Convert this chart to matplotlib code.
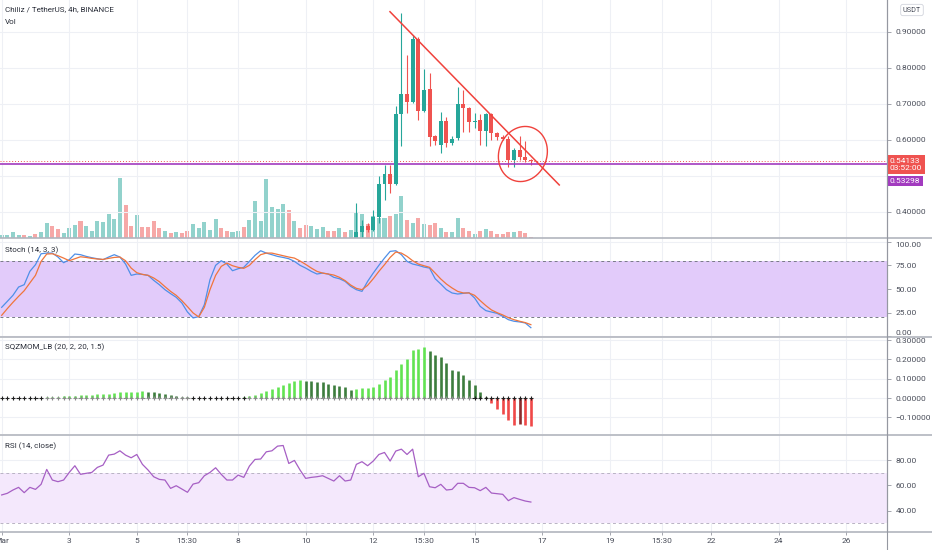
import matplotlib
matplotlib.use('Agg')
import matplotlib.pyplot as plt
import numpy as np
from matplotlib.lines import Line2D

plt.rcParams['font.family'] = ['Roboto', 'DejaVu Sans']

# ---------------- data ----------------
n_bars = 95
bar_day = 1 + np.arange(n_bars) / 6.0     # 4h bars, day 1 = Mar 1 00:00

# volume (millions), one per bar
volume = [0.7, 0.7, 1.6, 0.9, 0.8, 0.6, 1.0, 1.8, 4.4, 3.5,
          2.7, 1.5, 2.9, 3.9, 5.1, 3.5, 2.1, 5.0, 4.7, 7.0,
          5.7, 18.0, 9.7, 3.5, 6.7, 3.2, 3.1, 4.9, 2.9, 2.1,
          1.4, 1.6, 1.4, 2.0, 4.2, 2.9, 4.7, 2.4, 5.6, 2.9,
          2.1, 1.7, 2.0, 3.2, 5.3, 11.1, 4.9, 17.5, 9.2, 8.6,
          10.1, 8.2, 5.0, 3.0, 3.9, 3.4, 2.7, 3.2, 2.1, 2.1,
          2.9, 1.7, 2.2, 7.7, 7.2, 4.0, 6.4, 6.0, 6.0, 6.4,
          7.2, 12.5, 5.4, 4.4, 5.8, 4.0, 3.7, 4.3, 2.8, 1.8,
          1.8, 5.8, 2.8, 1.9, 1.2, 2.0, 2.6, 2.0, 1.1, 1.1,
          1.8, 1.6, 2.0, 1.5, 0.3]
# up/down of the bars whose candles lie below the visible price range
vol_up_early = [1, 1, 1, 1, 0, 1, 0, 1, 1, 0, 0, 1, 1, 1, 0, 1, 1, 1, 1, 1,
                1, 1, 0, 0, 1, 0, 0, 0, 0, 1, 0, 1, 0, 0, 1, 1, 1, 1, 1, 0,
                0, 1, 1, 0, 1, 1, 1, 1, 1, 1, 1, 0, 1, 0, 0, 1, 1, 1, 0, 0,
                1, 0, 1]

# visible candles (bar 63 .. 94)
candle_first = 63
c_open = [0.324, 0.343, 0.361, 0.350, 0.385, 0.478, 0.506, 0.478, 0.672, 0.728,
          0.706, 0.880, 0.681, 0.741, 0.611, 0.585, 0.653, 0.591, 0.605, 0.699,
          0.690, 0.651, 0.655, 0.625, 0.671, 0.618, 0.609, 0.603, 0.543, 0.572,
          0.552, 0.544]
c_high = [0.424, 0.378, 0.369, 0.406, 0.500, 0.531, 0.531, 0.693, 0.952, 0.836,
          0.892, 0.885, 0.796, 0.785, 0.615, 0.678, 0.665, 0.610, 0.748, 0.739,
          0.692, 0.676, 0.671, 0.674, 0.674, 0.622, 0.613, 0.610, 0.577, 0.611,
          0.597, 0.546]
c_low = [0.313, 0.322, 0.343, 0.348, 0.369, 0.433, 0.454, 0.475, 0.582, 0.674,
         0.702, 0.656, 0.679, 0.583, 0.586, 0.565, 0.581, 0.585, 0.600, 0.623,
         0.623, 0.632, 0.586, 0.583, 0.600, 0.600, 0.600, 0.526, 0.526, 0.543,
         0.540, 0.531]
c_close = [0.343, 0.361, 0.350, 0.385, 0.478, 0.506, 0.478, 0.672, 0.728, 0.706,
           0.880, 0.681, 0.739, 0.609, 0.598, 0.652, 0.591, 0.603, 0.699, 0.690,
           0.649, 0.654, 0.625, 0.671, 0.618, 0.607, 0.603, 0.543, 0.572, 0.552,
           0.543, 0.54133]

last_price = 0.54133
level_price = 0.53298
countdown = '03:52:00'

# drawn trend line and circle (day, price)
trend_days = [12.495, 17.507]
trend_prices = [0.9564, 0.475]
circle_center = (16.43, 0.561)

stoch_k = [30.6, 36.9, 43.3, 52.1, 54.6, 68.7, 75.8, 87.4, 88.1, 88.1,
           83.9, 77.9, 81.1, 87.1, 86.4, 84.6, 83.2, 82.1, 81.1, 83.9,
           86.4, 83.9, 76.5, 64.5, 65.9, 65.5, 64.5, 59.2, 54.6, 49.3,
           45.1, 41.2, 35.2, 25.6, 19.3, 20.7, 33.4, 59.9, 75.1, 80.0,
           76.5, 69.4, 71.5, 73.0, 79.3, 85.7, 90.6, 88.1, 86.4, 84.6,
           83.5, 82.1, 79.3, 75.1, 72.2, 68.7, 65.9, 66.9, 65.9, 62.4,
           60.9, 58.1, 52.8, 49.3, 47.5, 58.1, 66.9, 75.1, 82.8, 89.9,
           90.6, 86.4, 79.3, 76.5, 75.1, 73.3, 72.2, 60.9, 55.3, 49.3,
           45.8, 44.7, 45.4, 46.1, 40.5, 31.6, 27.1, 25.6, 24.2, 21.1,
           17.5, 15.8, 15.1, 14.0, 9.0]
stoch_d = [22.1, 29.2, 35.9, 42.2, 48.2, 56.4, 64.5, 79.3, 87.1, 87.4,
           85.3, 82.8, 80.0, 82.1, 84.2, 83.5, 82.5, 81.8, 81.4, 82.5,
           83.5, 83.9, 80.0, 72.2, 67.3, 65.5, 64.5, 61.7, 57.8, 52.5,
           47.5, 43.3, 37.7, 31.3, 24.6, 20.4, 30.6, 49.3, 64.5, 74.0,
           77.5, 74.7, 73.0, 71.9, 75.1, 81.1, 86.4, 88.1, 88.1, 86.7,
           85.3, 83.9, 82.8, 79.7, 76.1, 72.2, 68.7, 66.9, 65.9, 64.8,
           62.4, 58.9, 54.2, 50.7, 49.3, 53.9, 60.9, 68.7, 75.8, 83.5,
           89.2, 88.1, 84.6, 80.0, 76.5, 74.7, 73.0, 66.9, 60.6, 55.3,
           51.1, 47.5, 45.8, 45.8, 43.3, 37.7, 32.4, 27.8, 24.9, 22.5,
           19.6, 17.5, 15.8, 14.4, 12.2]

sqz_mom = [0.0, 0.0, 0.0, 0.0, 0.0, 0.0, 0.0, 0.0, 0.003, 0.005,
           0.007, 0.009, 0.010, 0.012, 0.016, 0.017, 0.018, 0.019, 0.021, 0.022,
           0.026, 0.029, 0.031, 0.0315, 0.032, 0.034, 0.032, 0.029, 0.024, 0.019,
           0.014, 0.009, 0.005, 0.003, 0.001, -0.001, -0.002, -0.001, 0.0, 0.0,
           0.0, 0.0, 0.0005, 0.003, 0.009, 0.014, 0.028, 0.038, 0.047, 0.057,
           0.069, 0.079, 0.086, 0.091, 0.090, 0.086, 0.084, 0.081, 0.074, 0.069,
           0.060, 0.055, 0.043, 0.048, 0.050, 0.052, 0.055, 0.072, 0.093, 0.107,
           0.147, 0.176, 0.203, 0.250, 0.253, 0.264, 0.245, 0.224, 0.210, 0.181,
           0.147, 0.138, 0.121, 0.095, 0.066, 0.031, 0.007, -0.026, -0.055, -0.083,
           -0.112, -0.141, -0.136, -0.142, -0.147]
# squeeze state per bar: 1 = squeeze on (black cross), 0 = off (grey cross)
sqz_on = [1] * 8 + [0] * 26 + [1] * 10 + [0] * 40 + [1] * 11

rsi = [52.4, 53.7, 56.3, 58.4, 54.2, 58.4, 56.8, 60.8, 72.6, 64.2,
       62.9, 64.2, 70.2, 75.5, 68.7, 69.5, 70.2, 74.2, 76.0, 83.9,
       84.7, 87.3, 83.9, 81.8, 84.4, 76.6, 72.1, 66.8, 64.7, 64.2,
       57.6, 59.7, 57.1, 54.5, 61.0, 62.1, 67.6, 70.2, 73.9, 68.7,
       64.2, 64.2, 68.1, 66.3, 75.2, 80.5, 80.8, 86.5, 87.3, 91.0,
       91.5, 77.3, 79.7, 72.1, 65.5, 66.3, 66.8, 67.6, 65.5, 63.4,
       67.6, 63.4, 64.2, 76.6, 78.7, 75.5, 79.2, 84.4, 86.0, 79.2,
       87.1, 88.6, 84.4, 88.6, 66.8, 69.5, 58.9, 58.1, 60.8, 56.3,
       56.8, 61.6, 61.6, 58.4, 58.1, 55.8, 58.4, 53.9, 53.4, 52.9,
       47.9, 50.3, 48.9, 47.6, 46.8]

tick_days = [1, 3, 5, 6.49, 8, 10, 12, 13.5, 15, 17, 19, 20.55, 22, 24, 26]
tick_labels = ['Mar', '3', '5', '15:30', '8', '10', '12', '15:30', '15',
               '17', '19', '15:30', '22', '24', '26']

# ---------------- layout ----------------
W, H = 932, 550
X_AX = 887            # right price axis line
UP, DOWN = '#26a69a', '#ef5350'
GRID = '#eef0f5'
TXT = '#4a4e5a'
AXC = '#9598a1'

fig = plt.figure(figsize=(W / 100, H / 100), dpi=100)
fig.patch.set_facecolor('white')


def pane(top, bottom):
    return [0, 1 - bottom / H, X_AX / W, (bottom - top) / H]


def style(ax, yticks, fmt, ylim):
    ax.set_xlim(0.95, 27.21)
    ax.set_ylim(*ylim)
    for s in ['top', 'left', 'bottom']:
        ax.spines[s].set_visible(False)
    ax.spines['right'].set_color(AXC)
    ax.spines['right'].set_linewidth(0.8)
    ax.yaxis.tick_right()
    ax.set_yticks(yticks)
    ax.set_yticklabels([fmt(v) for v in yticks])
    ax.tick_params(axis='y', length=3, width=0.6, color=AXC, labelsize=6,
                   labelcolor=TXT, pad=3)
    ax.set_xticks(tick_days)
    ax.tick_params(axis='x', length=0, labelbottom=False)
    ax.grid(True, color=GRID, lw=0.8, zorder=0)
    ax.set_axisbelow(True)


def num(v, d):
    s = f'{abs(v):.{d}f}'
    return ('\u2212' + s) if v < 0 else s


# ---- main pane: volume underneath, candles above ----
ax_vol = fig.add_axes(pane(0, 237.5))
vol_up = list(vol_up_early) + [1 if c >= o else 0 for o, c in zip(c_open, c_close)]
vol_cols = [(0.149, 0.651, 0.604, 0.5) if u else (0.937, 0.325, 0.314, 0.5) for u in vol_up]
ax_vol.bar(bar_day, volume, width=0.72 / 6, color=vol_cols, zorder=2)
ax_vol.set_xlim(0.95, 27.21)
ax_vol.set_ylim(0, max(volume) * 237.5 / 60)
ax_vol.axis('off')

ax = fig.add_axes(pane(0, 237.5))
ax.patch.set_alpha(0)
price_ticks = [0.4, 0.5, 0.6, 0.7, 0.8, 0.9]
style(ax, price_ticks, lambda v: num(v, 5), (0.329, 0.9889))
ax.set_yticklabels(['' if abs(v - 0.5) < 1e-9 else num(v, 5) for v in price_ticks])

cdays = bar_day[candle_first:candle_first + len(c_open)]
for d, o, h, l, c in zip(cdays, c_open, c_high, c_low, c_close):
    col = UP if c >= o else DOWN
    ax.vlines(d, l, h, color=col, lw=0.8, zorder=3)
    ax.bar(d, c - o, bottom=o, width=0.7 / 6, color=col, zorder=4, lw=0)

ax.axhline(level_price, color='#a23bbf', lw=1.2, zorder=3)
ax.axhline(last_price, color=DOWN, lw=0.7, ls=(0, (1, 2)), zorder=3)
ax.plot(trend_days, trend_prices, color='#f0423c', lw=1.1, zorder=5)

t = np.linspace(0, 2 * np.pi, 200)
px, py = 24 * np.cos(t), 28 * np.sin(t)
ang = np.deg2rad(-20)
rx = px * np.cos(ang) - py * np.sin(ang)
ry = px * np.sin(ang) + py * np.cos(ang)
ax.plot(circle_center[0] + rx / 33.78, circle_center[1] + ry / 360.0,
        color='#f0423c', lw=1.0, zorder=5)

ax.annotate(f'{last_price:.5f}\n{countdown}', xy=(1, last_price),
            xycoords=('axes fraction', 'data'), xytext=(3, -3.5),
            textcoords='offset pixels', ha='left', va='center', fontsize=6,
            color='white', linespacing=1.25, annotation_clip=False, zorder=10,
            bbox=dict(boxstyle='square,pad=0.3', fc=DOWN, ec='none'))
ax.annotate(f'{level_price:.5f}', xy=(1, level_price),
            xycoords=('axes fraction', 'data'), xytext=(3, -17),
            textcoords='offset pixels', ha='left', va='center', fontsize=6,
            color='white', annotation_clip=False, zorder=10,
            bbox=dict(boxstyle='square,pad=0.25', fc='#a23bbf', ec='none'))

fig.text(5 / W, 1 - 9 / H, 'Chiliz / TetherUS, 4h, BINANCE', fontsize=5.8,
         color='#2a2e39', va='center', ha='left')
fig.text(5 / W, 1 - 22 / H, 'Vol', fontsize=5.8, color='#2a2e39', va='center', ha='left')
fig.text(912 / W, 1 - 10 / H, 'USDT', fontsize=5.2, color=TXT, va='center', ha='center',
         bbox=dict(boxstyle='round,pad=0.3', fc='white', ec='#d1d4dc', lw=0.6))

# ---- Stoch pane ----
ax_st = fig.add_axes(pane(238, 336.5))
style(ax_st, [0, 25, 50, 75, 100], lambda v: num(v, 2), (-0.36, 104.1))
for lab in ax_st.get_yticklabels():
    if lab.get_text() == '0.00':
        lab.set_verticalalignment('bottom')
    if lab.get_text() == '100.00':
        lab.set_verticalalignment('top')
ax_st.axhspan(20, 80, color='#e2cbfa', lw=0, zorder=1)
ax_st.axhline(80, color='#787b86', lw=0.7, ls=(0, (3, 3)), zorder=2)
ax_st.axhline(20, color='#787b86', lw=0.7, ls=(0, (3, 3)), zorder=2)
ax_st.plot(bar_day, stoch_k, color='#4f8fe8', lw=0.9, zorder=3)
ax_st.plot(bar_day, stoch_d, color='#f0753c', lw=0.9, zorder=3)
ax_st.text(0.006, 0.88, 'Stoch (14, 3, 3)', transform=ax_st.transAxes, fontsize=5.8,
           color='#2a2e39', va='center')

# ---- SQZMOM pane ----
ax_sq = fig.add_axes(pane(337.5, 434))
style(ax_sq, [-0.1, 0.0, 0.1, 0.2, 0.3], lambda v: num(v, 5), (-0.186, 0.313))
sq_cols = []
prev = 0.0
for v in sqz_mom:
    if v >= 0:
        sq_cols.append('#62e352' if v > prev else '#3d7d3d')
    else:
        sq_cols.append('#f04848' if v < prev else '#8b2c2c')
    prev = v
ax_sq.vlines(bar_day, 0, sqz_mom, colors=sq_cols, lw=1.9, zorder=3)
dot_cols = ['#1f1f1f' if s else '#8a8a8a' for s in sqz_on]
ax_sq.scatter(bar_day, np.zeros(n_bars), marker='+', s=9, c=dot_cols, lw=0.8, zorder=4)
ax_sq.text(0.006, 0.895, 'SQZMOM_LB (20, 2, 20, 1.5)', transform=ax_sq.transAxes,
           fontsize=5.8, color='#2a2e39', va='center')

# ---- RSI pane ----
ax_rsi = fig.add_axes(pane(435, 531))
style(ax_rsi, [40, 60, 80], lambda v: num(v, 2), (23.9, 99.8))
ax_rsi.axhspan(30, 70, color='#f4e8fc', lw=0, zorder=1)
ax_rsi.axhline(70, color='#b9b3c4', lw=0.7, ls=(0, (3, 3)), zorder=2)
ax_rsi.axhline(30, color='#b9b3c4', lw=0.7, ls=(0, (3, 3)), zorder=2)
ax_rsi.plot(bar_day, rsi, color='#a65fc4', lw=0.9, zorder=3)
ax_rsi.text(0.006, 0.885, 'RSI (14, close)', transform=ax_rsi.transAxes, fontsize=5.8,
            color='#2a2e39', va='center')
ax_rsi.set_xticklabels(tick_labels)
ax_rsi.tick_params(axis='x', labelbottom=True, length=3, width=0.6, color=AXC,
                   labelsize=6, labelcolor=TXT, pad=2)

# pane separators and axis lines
for yy in [237.75, 337, 434.5, 531.5]:
    fig.add_artist(Line2D([0, 1], [1 - yy / H, 1 - yy / H], color='#b2b5be', lw=1.2))
fig.add_artist(Line2D([X_AX / W, X_AX / W], [0, 1], color=AXC, lw=0.8))

fig.savefig('out.png', dpi=100)
